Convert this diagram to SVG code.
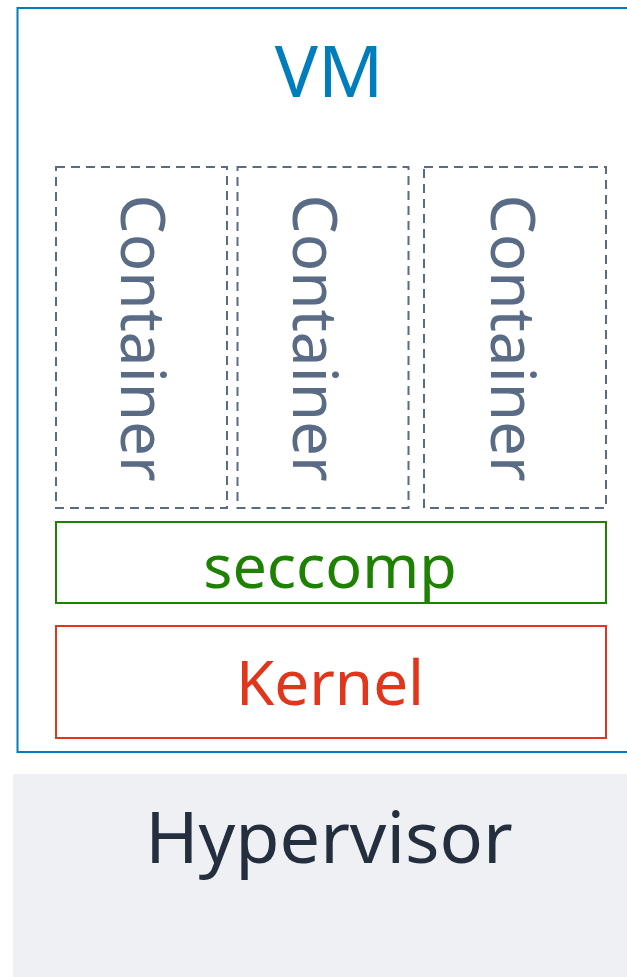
<svg xmlns="http://www.w3.org/2000/svg" width="627" height="977" viewBox="0 0 627 977">
  <style>
    text { font-family: "Noto Sans", "Open Sans", sans-serif; }
    .container rect { fill: none; stroke: #5a6b86; stroke-width: 2; stroke-dasharray: 9 6; }
    .container text { fill: #5a6b86; font-size: 62px; text-anchor: middle; }
    .label { text-anchor: middle; }
  </style>
  <rect width="627" height="977" fill="#ffffff"/>

  <!-- Hypervisor layer at the bottom -->
  <g id="hypervisor">
    <rect x="13" y="774" width="620" height="210" fill="#eff0f3"/>
    <text class="label" x="329" y="863" font-size="72" fill="#232f3e">Hypervisor</text>
  </g>

  <!-- Virtual machine boundary -->
  <g id="vm">
    <rect x="17.5" y="8" width="620" height="744" fill="none" stroke="#007dbc" stroke-width="2"/>
    <text class="label" x="329" y="97" font-size="72" fill="#007dbc">VM</text>
  </g>

  <!-- Containers, labels run top to bottom -->
  <g id="container-1" class="container">
    <rect x="56" y="167" width="171" height="341"/>
    <text transform="translate(121,338) rotate(90)">Container</text>
  </g>
  <g id="container-2" class="container">
    <rect x="237.5" y="167" width="171" height="341"/>
    <text transform="translate(293,338) rotate(90)">Container</text>
  </g>
  <g id="container-3" class="container">
    <rect x="424" y="167" width="182" height="341"/>
    <text transform="translate(491,338) rotate(90)">Container</text>
  </g>

  <!-- seccomp filter layer -->
  <g id="seccomp">
    <rect x="56" y="522" width="550" height="81" fill="none" stroke="#1d8102" stroke-width="2"/>
    <text class="label" x="330" y="588" font-size="61" fill="#1d8102">seccomp</text>
  </g>

  <!-- Guest kernel -->
  <g id="kernel">
    <rect x="56" y="626" width="550" height="112" fill="none" stroke="#e0361b" stroke-width="2"/>
    <text class="label" x="330" y="705" font-size="62" fill="#e0361b">Kernel</text>
  </g>

  <g id="connectors"/>
</svg>
